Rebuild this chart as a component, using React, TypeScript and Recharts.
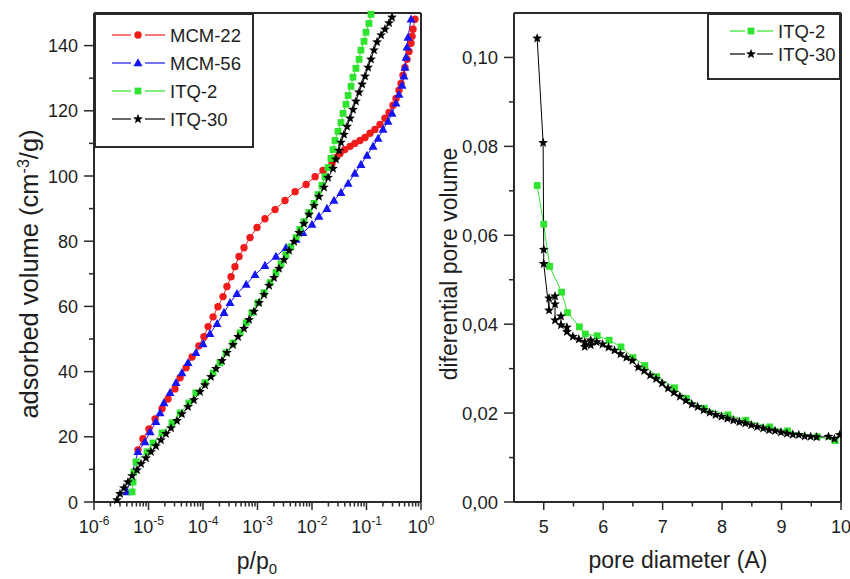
import React from 'react';
import { LineChart, Line, XAxis, YAxis, ReferenceLine, Legend } from 'recharts';

const FONT = '"Liberation Sans", Arial, Helvetica, sans-serif';
const INK = '#1e1e1e';
const AXIS = '#2a2a2a';
const RED = '#f01c1c';
const BLUE = '#1616f2';
const GREEN = '#2fe42f';
const BLACK = '#000000';

// ---- left panel: adsorption isotherms (p/p0, adsorbed volume cm3/g) ----
const mcm22P = [
  6.4e-6, 7.9e-6, 1.02e-5, 1.32e-5, 1.77e-5, 2.28e-5, 3.06e-5, 3.8e-5, 4.9e-5, 6.3e-5,
  8.4e-5, 1.04e-4, 1.24e-4, 1.53e-4, 1.88e-4, 2.33e-4, 2.75e-4, 3.27e-4, 3.86e-4, 4.58e-4,
  5.65e-4, 7.3e-4, 9.8e-4, 1.37e-3, 2.1e-3, 3.2e-3, 4.9e-3, 7.8e-3, 1.14e-2, 1.59e-2,
  2.33e-2, 2.75e-2, 3.27e-2, 4.0e-2, 5.0e-2, 6.1e-2, 7.6e-2, 9.4e-2, 0.116, 0.143,
  0.177, 0.218, 0.259, 0.306, 0.348, 0.394, 0.43, 0.468, 0.508, 0.553,
  0.603, 0.656, 0.684, 0.713, 0.776,
];
const mcm22V = [
  16.0, 19.4, 22.4, 25.5, 28.6, 31.6, 34.7, 38.1, 41.2, 44.5,
  47.9, 50.7, 53.8, 56.8, 59.9, 63.0, 66.1, 69.1, 72.2, 75.3,
  78.0, 81.1, 84.2, 86.9, 89.7, 92.5, 95.2, 97.4, 99.8, 101.7,
  103.8, 105.7, 106.9, 108.1, 109.1, 110.0, 110.9, 111.8, 113.1, 114.3,
  115.8, 117.7, 119.5, 121.7, 123.8, 126.3, 128.4, 130.9, 133.3, 135.8,
  138.2, 140.7, 142.9, 145.0, 148.1,
];

const mcm56P = [
  4.0e-6, 6.4e-6, 8.6e-6, 1.07e-5, 1.37e-5, 1.63e-5, 1.92e-5, 2.48e-5, 3.2e-5, 4.1e-5,
  5.3e-5, 7.4e-5, 1.0e-4, 1.34e-4, 1.81e-4, 2.43e-4, 3.13e-4, 4.2e-4, 6.2e-4, 9.0e-4,
  1.37e-3, 2.18e-3, 3.33e-3, 5.1e-3, 6.8e-3, 1.0e-2, 1.34e-2, 1.88e-2, 2.53e-2, 3.4e-2,
  4.6e-2, 6.1e-2, 7.9e-2, 0.102, 0.132, 0.163, 0.201, 0.248, 0.294, 0.348,
  0.394, 0.448, 0.487, 0.508, 0.531, 0.553, 0.577, 0.656,
];
const mcm56V = [
  3.1, 15.4, 18.4, 21.5, 24.6, 27.3, 30.4, 33.5, 36.6, 39.6,
  42.7, 45.8, 48.5, 51.6, 54.7, 58.1, 61.1, 63.9, 66.7, 69.7,
  72.5, 75.3, 78.0, 80.5, 82.6, 85.1, 87.6, 90.0, 92.5, 94.9,
  97.7, 100.8, 103.5, 106.3, 109.1, 111.5, 114.3, 116.7, 119.2, 122.3,
  125.0, 127.8, 130.6, 133.3, 136.4, 139.5, 142.5, 148.1,
];

const itq2P = [
  5.0e-6, 5.2e-6, 5.4e-6, 5.9e-6, 9.4e-6, 1.21e-5, 1.77e-5, 2.7e-5, 3.8e-5, 5.5e-5,
  7.4e-5, 1.09e-4, 1.53e-4, 2.05e-4, 2.64e-4, 3.55e-4, 4.8e-4, 6.2e-4, 7.9e-4, 1.02e-3,
  1.32e-3, 1.69e-3, 2.18e-3, 2.7e-3, 3.33e-3, 4.1e-3, 5.1e-3, 6.0e-3, 7.1e-3, 8.8e-3,
  1.09e-2, 1.29e-2, 1.52e-2, 1.73e-2, 1.97e-2, 2.23e-2, 2.43e-2, 2.64e-2, 3.0e-2, 3.4e-2,
  3.71e-2, 4.2e-2, 4.6e-2, 5.2e-2, 5.65e-2, 6.4e-2, 7.3e-2, 7.9e-2, 9.0e-2, 9.8e-2,
  0.111, 0.121,
];
const itq2V = [
  3.1, 6.1, 9.2, 12.3, 15.4, 18.1, 21.2, 24.3, 27.3, 30.4,
  33.5, 36.6, 39.6, 42.7, 45.8, 48.8, 51.9, 55.0, 58.1, 61.1,
  64.2, 67.3, 70.4, 73.1, 75.9, 78.3, 81.1, 83.6, 86.0, 88.8,
  91.6, 94.3, 97.1, 99.8, 102.6, 105.4, 108.1, 110.9, 113.7, 116.4,
  119.2, 122.0, 124.7, 127.5, 130.3, 133.0, 135.8, 138.6, 141.3, 144.1,
  146.8, 149.6,
];

const itq30P = [
  2.64e-6, 3.0e-6, 3.55e-6, 4.2e-6, 5.0e-6, 6.15e-6, 7.3e-6, 9.0e-6, 1.11e-5, 1.37e-5,
  1.69e-5, 2.09e-5, 2.59e-5, 3.33e-5, 4.1e-5, 5.3e-5, 6.8e-5, 8.8e-5, 1.09e-4, 1.4e-4,
  1.73e-4, 2.23e-4, 2.75e-4, 3.55e-4, 4.4e-4, 5.65e-4, 7.0e-4, 8.6e-4, 1.07e-3, 1.32e-3,
  1.63e-3, 2.01e-3, 2.48e-3, 3.06e-3, 3.8e-3, 4.7e-3, 5.8e-3, 7.1e-3, 8.8e-3, 1.09e-2,
  1.34e-2, 1.66e-2, 1.97e-2, 2.43e-2, 2.75e-2, 3.13e-2, 3.4e-2, 3.86e-2, 4.4e-2, 5.0e-2,
  5.65e-2, 6.4e-2, 7.3e-2, 8.3e-2, 9.4e-2, 0.107, 0.121, 0.137, 0.156, 0.185,
  0.218, 0.259, 0.294,
];
const itq30V = [
  0.6, 2.5, 4.3, 6.1, 8.0, 9.8, 11.7, 13.5, 15.4, 17.2,
  19.0, 20.9, 22.7, 24.9, 27.0, 29.2, 31.3, 33.8, 35.9, 38.4,
  40.9, 43.3, 45.8, 48.2, 50.7, 53.2, 55.9, 58.4, 61.1, 63.6,
  66.4, 68.8, 71.6, 74.3, 77.1, 79.9, 82.6, 85.4, 88.2, 90.9,
  93.7, 96.5, 99.5, 102.3, 105.1, 107.8, 110.3, 112.7, 115.2, 117.7,
  120.4, 122.9, 125.7, 128.1, 130.6, 133.3, 135.8, 138.6, 141.1, 143.2,
  145.0, 146.9, 148.7,
];

// ---- right panel: pore size distribution ----
const itq2D = [4.89, 5.0, 5.1, 5.3, 5.4, 5.6, 5.7, 5.9, 6.1, 6.3, 6.5, 6.7, 6.9, 7.2, 7.4, 7.7, 8.1, 8.4, 8.8, 9.1, 9.6, 9.9];
const itq2Dv = [
  0.0712, 0.0625, 0.053, 0.0472, 0.0426, 0.0394, 0.0378, 0.0374, 0.0364, 0.0349, 0.0325,
  0.0307, 0.0282, 0.0257, 0.0233, 0.0211, 0.0196, 0.0184, 0.0169, 0.016, 0.0147, 0.0138,
];

const itq30D = [
  4.89, 4.99, 5.0, 5.0, 5.09, 5.09, 5.19, 5.19, 5.19, 5.29, 5.29, 5.39, 5.39, 5.49, 5.59,
  5.69, 5.69, 5.79, 5.79, 5.89, 5.99, 6.09, 6.19, 6.29, 6.39, 6.49, 6.59, 6.69, 6.79, 6.89,
  6.99, 7.09, 7.19, 7.29, 7.39, 7.49, 7.59, 7.69, 7.79, 7.89, 7.99, 8.09, 8.19, 8.29, 8.39,
  8.49, 8.59, 8.69, 8.79, 8.89, 8.99, 9.09, 9.19, 9.29, 9.39, 9.49, 9.59, 9.79, 9.89, 9.98,
];
const itq30Dv = [
  0.1043, 0.0808, 0.0568, 0.0536, 0.0431, 0.0458, 0.0463, 0.0445, 0.0409, 0.0418, 0.0398, 0.0393, 0.0383, 0.0372, 0.0366,
  0.036, 0.0349, 0.0364, 0.0353, 0.036, 0.0355, 0.0348, 0.0341, 0.0333, 0.0325, 0.0318, 0.0303, 0.0295, 0.0285, 0.0277,
  0.0267, 0.0256, 0.0246, 0.0237, 0.0228, 0.022, 0.0214, 0.0207, 0.0201, 0.0196, 0.0192, 0.0188, 0.0184, 0.018, 0.0177,
  0.0173, 0.0169, 0.0166, 0.0162, 0.016, 0.0157, 0.0154, 0.0152, 0.0151, 0.0148, 0.0147, 0.0146, 0.0147, 0.0142, 0.0151,
];

// axis ticks
const pMajor = [1e-6, 1e-5, 1e-4, 1e-3, 1e-2, 1e-1, 1];
const pTicks = [...pMajor, ...pMajor.slice(0, -1).flatMap((d) => [2, 3, 4, 5, 6, 7, 8, 9].map((k) => k * d))].sort((a, b) => a - b);
const volTicks = [0, 10, 20, 30, 40, 50, 60, 70, 80, 90, 100, 110, 120, 130, 140];
const diamTicks = [5, 5.5, 6, 6.5, 7, 7.5, 8, 8.5, 9, 9.5, 10];
const poreTicks = [0, 0.01, 0.02, 0.03, 0.04, 0.05, 0.06, 0.07, 0.08, 0.09, 0.1];

const zip = (xs: number[], ys: number[]) => xs.map((x, i) => ({ x, y: ys[i] }));

const mcm22 = zip(mcm22P, mcm22V);
const mcm56 = zip(mcm56P, mcm56V);
const itq2 = zip(itq2P, itq2V);
const itq30 = zip(itq30P, itq30V);
const itq2Pore = zip(itq2D, itq2Dv);
const itq30Pore = zip(itq30D, itq30Dv);

// markers
type Mk = { cx: number; cy: number; fill: string };

function CircleMark({ cx, cy, fill }: Mk) {
  return <circle cx={cx} cy={cy} r={3.7} fill={fill} />;
}
function TriangleMark({ cx, cy, fill }: Mk) {
  return <polygon points={`${cx},${cy - 4.8} ${cx + 4.5},${cy + 3.3} ${cx - 4.5},${cy + 3.3}`} fill={fill} />;
}
function SquareMark({ cx, cy, fill }: Mk) {
  return <rect x={cx - 3.4} y={cy - 3.4} width={6.8} height={6.8} fill={fill} />;
}
function StarMark({ cx, cy, fill }: Mk) {
  const pts: string[] = [];
  for (let i = 0; i < 10; i++) {
    const r = i % 2 === 0 ? 5.2 : 2.2;
    const a = -Math.PI / 2 + (i * Math.PI) / 5;
    pts.push(`${cx + r * Math.cos(a)},${cy + r * Math.sin(a)}`);
  }
  return <polygon points={pts.join(' ')} fill={fill} />;
}

const dotOf = (Shape: any, fill: string) => (p: any) =>
  <Shape key={`m${p.index}`} cx={p.cx} cy={p.cy} fill={fill} />;

// ticks
function PTick({ x, y, payload }: any) {
  const lg = Math.log10(payload.value);
  const e = Math.round(lg);
  const major = Math.abs(lg - e) < 1e-6;
  return (
    <g>
      <line x1={x} x2={x} y1={y} y2={y + (major ? 8 : 4.5)} stroke={AXIS} strokeWidth={1.5} />
      {major && (
        <text x={x} y={y + 31} textAnchor="middle" fontSize={18} fill={INK} fontFamily={FONT}>
          10<tspan dy={-8} fontSize={12}>{e}</tspan>
        </text>
      )}
    </g>
  );
}

function VolTick({ x, y, payload }: any) {
  const major = payload.value % 20 === 0;
  return (
    <g>
      <line x1={x - (major ? 10 : 5)} x2={x} y1={y} y2={y} stroke={AXIS} strokeWidth={1.5} />
      {major && (
        <text x={x - 16} y={y + 6.5} textAnchor="end" fontSize={18} fill={INK} fontFamily={FONT}>
          {payload.value}
        </text>
      )}
    </g>
  );
}

function DiamTick({ x, y, payload }: any) {
  const major = Number.isInteger(payload.value);
  return (
    <g>
      <line x1={x} x2={x} y1={y} y2={y + (major ? 8 : 4.5)} stroke={AXIS} strokeWidth={1.5} />
      {major && (
        <text x={x} y={y + 31} textAnchor="middle" fontSize={18} fill={INK} fontFamily={FONT}>
          {payload.value}
        </text>
      )}
    </g>
  );
}

function PoreTick({ x, y, payload }: any) {
  const major = Math.round(payload.value * 100) % 2 === 0;
  return (
    <g>
      <line x1={x - (major ? 10 : 5)} x2={x} y1={y} y2={y} stroke={AXIS} strokeWidth={1.5} />
      {major && (
        <text x={x - 16} y={y + 6.5} textAnchor="end" fontSize={18.5} fill={INK} fontFamily={FONT}>
          {payload.value.toFixed(2).replace('.', ',')}
        </text>
      )}
    </g>
  );
}

// legend box drawn as svg so the marks line up with the plot markers
type Item = { name: string; color: string; Shape: any };

function LegendBox({ items, w, h, rowY, x1, x2, mx, x3, x4, tx }: {
  items: Item[]; w: number; h: number; rowY: number[];
  x1: number; x2: number; mx: number; x3: number; x4: number; tx: number;
}) {
  return (
    <svg width={w} height={h} style={{ display: 'block' }}>
      <rect x={1} y={1} width={w - 2} height={h - 2} fill="#fff" stroke={AXIS} strokeWidth={2} />
      {items.map((it, i) => (
        <g key={it.name}>
          <line x1={x1} x2={x2} y1={rowY[i]} y2={rowY[i]} stroke={it.color} strokeWidth={1.2} />
          <it.Shape cx={mx} cy={rowY[i]} fill={it.color} />
          <line x1={x3} x2={x4} y1={rowY[i]} y2={rowY[i]} stroke={it.color} strokeWidth={1.2} />
          <text x={tx} y={rowY[i] + 6.5} fontSize={18.5} fill={INK} fontFamily={FONT}>
            {it.name}
          </text>
        </g>
      ))}
    </svg>
  );
}

const leftItems: Item[] = [
  { name: 'MCM-22', color: RED, Shape: CircleMark },
  { name: 'MCM-56', color: BLUE, Shape: TriangleMark },
  { name: 'ITQ-2', color: GREEN, Shape: SquareMark },
  { name: 'ITQ-30', color: BLACK, Shape: StarMark },
];
const rightItems: Item[] = [
  { name: 'ITQ-2', color: GREEN, Shape: SquareMark },
  { name: 'ITQ-30', color: BLACK, Shape: StarMark },
];

const titleStyle = { fill: INK, fontFamily: FONT };

export default function App() {
  return (
    <div style={{ position: 'absolute', left: 0, top: 0, width: 850, height: 579, background: '#fff' }}>
      <div style={{ position: 'absolute', left: 0, top: 0 }}>
        <LineChart width={440} height={579} margin={{ top: 13, right: 19, bottom: 0, left: 0 }}>
          <XAxis
            type="number"
            dataKey="x"
            scale="log"
            domain={[1e-6, 1]}
            allowDataOverflow
            ticks={pTicks}
            interval={0}
            tick={<PTick />}
            tickLine={false}
            tickSize={0}
            tickMargin={0}
            height={77}
            axisLine={{ stroke: AXIS, strokeWidth: 2 }}
            label={{
              content: () => (
                <text x={257} y={569} textAnchor="middle" fontSize={23} {...titleStyle}>
                  p/p<tspan dy={5} fontSize={15}>0</tspan>
                </text>
              ),
            }}
          />
          <YAxis
            type="number"
            domain={[0, 150]}
            ticks={volTicks}
            interval={0}
            tick={<VolTick />}
            tickLine={false}
            tickSize={0}
            tickMargin={0}
            width={94}
            axisLine={{ stroke: AXIS, strokeWidth: 2 }}
            label={{
              content: () => (
                <text x={38} y={274} transform="rotate(-90 38 274)" textAnchor="middle" fontSize={25.5} {...titleStyle}>
                  adsorbed volume (cm<tspan dy={-9} fontSize={16}>-3</tspan>
                  <tspan dy={9}>/g)</tspan>
                </text>
              ),
            }}
          />
          <ReferenceLine y={150} stroke={AXIS} strokeWidth={2} />
          <ReferenceLine x={1} stroke={AXIS} strokeWidth={2} />
          <Line data={mcm22} dataKey="y" name="MCM-22" stroke={RED} strokeWidth={1} dot={dotOf(CircleMark, RED)} isAnimationActive={false} />
          <Line data={mcm56} dataKey="y" name="MCM-56" stroke={BLUE} strokeWidth={1} dot={dotOf(TriangleMark, BLUE)} isAnimationActive={false} />
          <Line data={itq2} dataKey="y" name="ITQ-2" stroke={GREEN} strokeWidth={1} dot={dotOf(SquareMark, GREEN)} isAnimationActive={false} />
          <Line data={itq30} dataKey="y" name="ITQ-30" stroke={BLACK} strokeWidth={1} dot={dotOf(StarMark, BLACK)} isAnimationActive={false} />
          <Legend
            layout="horizontal"
            verticalAlign="middle"
            align="center"
            wrapperStyle={{ left: 94, top: 13, width: 160, height: 135 }}
            content={() => (
              <LegendBox items={leftItems} w={160} h={135} rowY={[22, 50, 78, 106]} x1={18} x2={37} mx={44} x3={51} x4={71} tx={76} />
            )}
          />
        </LineChart>
      </div>

      <div style={{ position: 'absolute', left: 430, top: 0 }}>
        <LineChart width={420} height={579} margin={{ top: 13, right: 9, bottom: 0, left: 0 }}>
          <XAxis
            type="number"
            dataKey="x"
            domain={[4.5, 10]}
            allowDataOverflow
            ticks={diamTicks}
            interval={0}
            tick={<DiamTick />}
            tickLine={false}
            tickSize={0}
            tickMargin={0}
            height={77}
            axisLine={{ stroke: AXIS, strokeWidth: 2 }}
            label={{
              content: () => (
                <text x={248} y={568} textAnchor="middle" fontSize={23} {...titleStyle}>
                  pore diameter (A)
                </text>
              ),
            }}
          />
          <YAxis
            type="number"
            domain={[0, 0.11]}
            ticks={poreTicks}
            interval={0}
            tick={<PoreTick />}
            tickLine={false}
            tickSize={0}
            tickMargin={0}
            width={84}
            axisLine={{ stroke: AXIS, strokeWidth: 2 }}
            label={{
              content: () => (
                <text x={27} y={264} transform="rotate(-90 27 264)" textAnchor="middle" fontSize={23} {...titleStyle}>
                  diferential pore volume
                </text>
              ),
            }}
          />
          <ReferenceLine y={0.11} stroke={AXIS} strokeWidth={2} />
          <ReferenceLine x={10} stroke={AXIS} strokeWidth={2} />
          <Line data={itq2Pore} dataKey="y" name="ITQ-2" stroke={GREEN} strokeWidth={1} dot={dotOf(SquareMark, GREEN)} isAnimationActive={false} />
          <Line data={itq30Pore} dataKey="y" name="ITQ-30" stroke={BLACK} strokeWidth={1} dot={dotOf(StarMark, BLACK)} isAnimationActive={false} />
          <Legend
            layout="horizontal"
            verticalAlign="middle"
            align="center"
            wrapperStyle={{ left: 277, top: 13, width: 134, height: 67 }}
            content={() => (
              <LegendBox items={rightItems} w={134} h={67} rowY={[18, 41]} x1={23} x2={38} mx={44} x3={50} x4={66} tx={71} />
            )}
          />
        </LineChart>
      </div>
    </div>
  );
}
